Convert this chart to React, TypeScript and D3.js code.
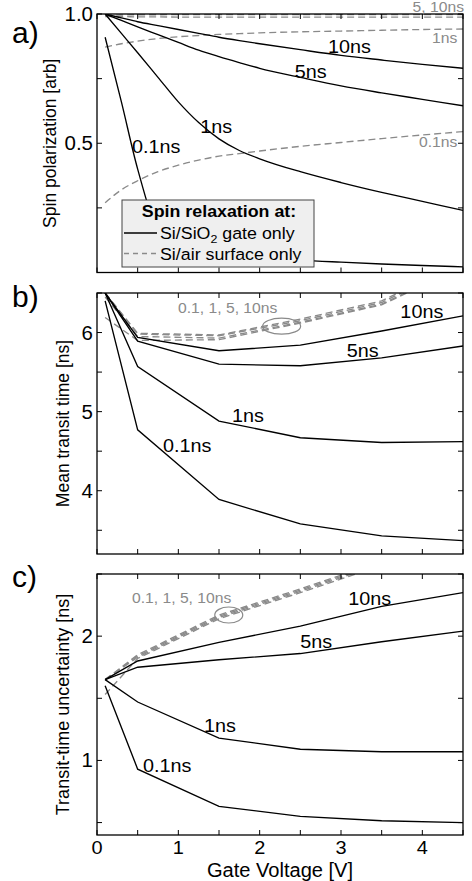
import * as d3 from "d3";

// ---------- data ----------
// a) spin polarization vs gate voltage
const voltA = [0.1, 0.3, 0.5, 0.75, 1, 1.25, 1.5, 1.75, 2, 2.5, 3, 3.5, 4, 4.5];
const polGate10 = [1.0, 0.985, 0.97, 0.955, 0.94, 0.925, 0.91, 0.897, 0.885, 0.862, 0.84, 0.822, 0.805, 0.79];
const polGate5 = [1.0, 0.975, 0.95, 0.92, 0.89, 0.86, 0.835, 0.812, 0.79, 0.755, 0.722, 0.695, 0.67, 0.645];
const polGate1 = [1.0, 0.925, 0.85, 0.755, 0.66, 0.58, 0.517, 0.472, 0.44, 0.39, 0.348, 0.31, 0.275, 0.24];
const polGate01 = [0.91, 0.66, 0.4, 0.17, 0.12, 0.095, 0.08, 0.07, 0.06, 0.048, 0.04, 0.033, 0.027, 0.022];
const polAir10 = [0.995, 0.996, 0.997, 0.997, 0.998, 0.998, 0.998, 0.998, 0.998, 0.998, 0.998, 0.998, 0.998, 0.998];
const polAir5 = [0.99, 0.99, 0.989, 0.989, 0.988, 0.988, 0.988, 0.988, 0.988, 0.988, 0.988, 0.988, 0.988, 0.988];
const polAir1 = [0.872, 0.885, 0.895, 0.905, 0.912, 0.917, 0.921, 0.924, 0.927, 0.931, 0.934, 0.937, 0.94, 0.942];
const polAir01 = [0.27, 0.32, 0.355, 0.39, 0.415, 0.435, 0.45, 0.46, 0.47, 0.488, 0.503, 0.518, 0.532, 0.545];

// b) mean transit time, c) transit-time uncertainty
const voltBC = [0.1, 0.5, 1.5, 2.5, 3.5, 4.5];
const meanGate10 = [6.5, 5.94, 5.77, 5.84, 6.02, 6.21];
const meanGate5 = [6.5, 5.89, 5.6, 5.58, 5.68, 5.83];
const meanGate1 = [6.5, 5.57, 4.88, 4.67, 4.61, 4.62];
const meanGate01 = [6.4, 4.77, 3.89, 3.58, 3.43, 3.37];
const meanAir10 = [6.5, 5.99, 5.97, 6.17, 6.4, 6.9];
const meanAir5 = [6.5, 5.98, 5.96, 6.15, 6.38, 6.88];
const meanAir1 = [6.45, 5.95, 5.93, 6.13, 6.36, 6.85];
const meanAir01 = [6.19, 5.9, 5.91, 6.12, 6.35, 6.84];

const uncGate10 = [1.65, 1.8, 1.95, 2.08, 2.24, 2.35];
const uncGate5 = [1.65, 1.75, 1.81, 1.86, 1.955, 2.04];
const uncGate1 = [1.65, 1.47, 1.18, 1.09, 1.07, 1.07];
const uncGate01 = [1.6, 0.93, 0.63, 0.55, 0.515, 0.5];
const uncAir10 = [1.65, 1.85, 2.17, 2.38, 2.6, 2.82];
const uncAir5 = [1.65, 1.84, 2.16, 2.37, 2.59, 2.81];
const uncAir1 = [1.65, 1.83, 2.15, 2.36, 2.58, 2.8];
const uncAir01 = [1.53, 1.82, 2.14, 2.35, 2.57, 2.79];

// ticks
const xTicks = [0, 0.5, 1, 1.5, 2, 2.5, 3, 3.5, 4, 4.5];
const xTickLabels = [0, 1, 2, 3, 4];
const yTicksA = [0, 0.25, 0.5, 0.75, 1];
const yLabelsA = [0.5, 1.0];
const yTicksB = [3.5, 4, 4.5, 5, 5.5, 6, 6.5];
const yLabelsB = [4, 5, 6];
const yTicksC = [0.5, 1, 1.5, 2, 2.5];
const yLabelsC = [1, 2];

// ---------- layout ----------
const W = 472;
const H = 881;
const FONT = '"Liberation Sans", Arial, Helvetica, sans-serif';
const GRAY = "#8a8a8a";

const x = d3.scaleLinear().domain([0, 4.5]).range([97, 463]);
const yA = d3.scaleLinear().domain([0, 1]).range([272.5, 14]);
const yB = d3.scaleLinear().domain([3.2, 6.5]).range([554, 293]);
const yC = d3.scaleLinear().domain([0.4, 2.5]).range([835, 574]);

function Txt({ px, py, size, sx = 1, anchor = "start", fill = "#000", weight = "normal", children }: any) {
  return (
    <text
      transform={`translate(${px},${py}) scale(${sx},1)`}
      fontSize={size}
      fontFamily={FONT}
      fontWeight={weight}
      textAnchor={anchor}
      fill={fill}
    >
      {children}
    </text>
  );
}

function Curve({ ys, y, xs, dashed = false, smooth = false, clip }: any) {
  const line = d3
    .line<number>()
    .x((_, i) => x(xs[i]))
    .y((d) => y(d))
    .curve(smooth ? d3.curveMonotoneX : d3.curveLinear);
  return (
    <path
      d={line(ys) || ""}
      fill="none"
      stroke={dashed ? GRAY : "#000"}
      strokeWidth={1.35}
      strokeDasharray={dashed ? "7,4" : undefined}
      clipPath={`url(#${clip})`}
    />
  );
}

function Frame({ y, ticks, labels, fmt, id }: any) {
  const [xl, xr] = x.range();
  const [yb, yt] = y.range();
  const tl = 5;
  return (
    <g>
      <defs>
        <clipPath id={id}>
          <rect x={xl} y={yt} width={xr - xl} height={yb - yt} />
        </clipPath>
      </defs>
      <rect x={xl} y={yt} width={xr - xl} height={yb - yt} fill="none" stroke="#000" strokeWidth={1.3} />
      {xTicks.map((t) => (
        <g key={"x" + t} stroke="#000" strokeWidth={1}>
          <line x1={x(t)} x2={x(t)} y1={yb} y2={yb - tl} />
          <line x1={x(t)} x2={x(t)} y1={yt} y2={yt + tl} />
        </g>
      ))}
      {ticks.map((t: number) => (
        <g key={"y" + t} stroke="#000" strokeWidth={1}>
          <line x1={xl} x2={xl + tl} y1={y(t)} y2={y(t)} />
          <line x1={xr} x2={xr - tl} y1={y(t)} y2={y(t)} />
        </g>
      ))}
      {labels.map((t: number) => (
        <Txt key={"l" + t} px={xl - 4} py={y(t) + 7} size={19.5} sx={1.05} anchor="end">
          {fmt(t)}
        </Txt>
      ))}
    </g>
  );
}

export default function App() {
  const lx = 122;
  const ly = 200;
  return (
    <svg
      width={W}
      height={H}
      viewBox={`0 0 ${W} ${H}`}
      style={{ position: "absolute", left: 0, top: 0, background: "#fff" }}
    >
      <rect width={W} height={H} fill="#fff" />

      {/* ---------- panel a ---------- */}
      <Curve xs={voltA} ys={polAir10} y={yA} dashed smooth clip="clipA" />
      <Curve xs={voltA} ys={polAir5} y={yA} dashed smooth clip="clipA" />
      <Curve xs={voltA} ys={polAir1} y={yA} dashed smooth clip="clipA" />
      <Curve xs={voltA} ys={polAir01} y={yA} dashed smooth clip="clipA" />
      <Curve xs={voltA} ys={polGate10} y={yA} smooth clip="clipA" />
      <Curve xs={voltA} ys={polGate5} y={yA} smooth clip="clipA" />
      <Curve xs={voltA} ys={polGate1} y={yA} smooth clip="clipA" />
      <Curve xs={voltA} ys={polGate01} y={yA} smooth clip="clipA" />
      <Frame y={yA} ticks={yTicksA} labels={yLabelsA} fmt={d3.format(".1f")} id="clipA" />

      <Txt px={x(4.5) + 1} py={yA(1) - 2.5} size={14} sx={1.12} anchor="end" fill={GRAY}>5, 10ns</Txt>
      <Txt px={x(4.43)} py={yA(0.888)} size={14} sx={1.12} anchor="end" fill={GRAY}>1ns</Txt>
      <Txt px={x(4.43)} py={yA(0.485)} size={14} sx={1.12} anchor="end" fill={GRAY}>0.1ns</Txt>
      <Txt px={x(2.84)} py={yA(0.849)} size={18} sx={1.1}>10ns</Txt>
      <Txt px={x(2.43)} py={yA(0.752)} size={18} sx={1.1}>5ns</Txt>
      <Txt px={x(1.27)} py={yA(0.54)} size={18} sx={1.1}>1ns</Txt>
      <Txt px={x(0.43)} py={yA(0.462)} size={18} sx={1.1}>0.1ns</Txt>

      {/* legend */}
      <g>
        <rect x={lx} y={ly} width={192} height={67} fill="#efefef" stroke="#444" strokeWidth={1} />
        <Txt px={lx + 97} py={ly + 17} size={16.5} sx={1.08} anchor="middle" weight="bold">
          Spin relaxation at:
        </Txt>
        <line x1={lx + 2} x2={lx + 35} y1={ly + 33} y2={ly + 33} stroke="#000" strokeWidth={1.3} />
        <text transform={`translate(${lx + 38},${ly + 38.5}) scale(1.08,1)`} fontSize={16.5} fontFamily={FONT}>
          Si/SiO<tspan fontSize={11.5} dy={4}>2</tspan>
          <tspan dy={-4}> gate only</tspan>
        </text>
        <line x1={lx + 2} x2={lx + 35} y1={ly + 53.5} y2={ly + 53.5} stroke={GRAY} strokeWidth={1.3} strokeDasharray="5,4" />
        <Txt px={lx + 38} py={ly + 59.5} size={16.5} sx={1.08}>Si/air surface only</Txt>
      </g>

      {/* ---------- panel b ---------- */}
      <Curve xs={voltBC} ys={meanAir10} y={yB} dashed clip="clipB" />
      <Curve xs={voltBC} ys={meanAir5} y={yB} dashed clip="clipB" />
      <Curve xs={voltBC} ys={meanAir1} y={yB} dashed clip="clipB" />
      <Curve xs={voltBC} ys={meanAir01} y={yB} dashed clip="clipB" />
      <Curve xs={voltBC} ys={meanGate10} y={yB} clip="clipB" />
      <Curve xs={voltBC} ys={meanGate5} y={yB} clip="clipB" />
      <Curve xs={voltBC} ys={meanGate1} y={yB} clip="clipB" />
      <Curve xs={voltBC} ys={meanGate01} y={yB} clip="clipB" />
      <Frame y={yB} ticks={yTicksB} labels={yLabelsB} fmt={d3.format("d")} id="clipB" />

      <Txt px={x(0.996)} py={yB(6.247)} size={14} sx={1.12} fill={GRAY}>0.1, 1, 5, 10ns</Txt>
      <ellipse cx={x(2.27)} cy={yB(6.08)} rx={19} ry={8} fill="none" stroke={GRAY} strokeWidth={1.2} />
      <Txt px={x(3.73)} py={yB(6.184)} size={18} sx={1.1}>10ns</Txt>
      <Txt px={x(3.07)} py={yB(5.69)} size={18} sx={1.1}>5ns</Txt>
      <Txt px={x(1.66)} py={yB(4.869)} size={18} sx={1.1}>1ns</Txt>
      <Txt px={x(0.81)} py={yB(4.49)} size={18} sx={1.1}>0.1ns</Txt>

      {/* ---------- panel c ---------- */}
      <Curve xs={voltBC} ys={uncAir10} y={yC} dashed clip="clipC" />
      <Curve xs={voltBC} ys={uncAir5} y={yC} dashed clip="clipC" />
      <Curve xs={voltBC} ys={uncAir1} y={yC} dashed clip="clipC" />
      <Curve xs={voltBC} ys={uncAir01} y={yC} dashed clip="clipC" />
      <Curve xs={voltBC} ys={uncGate10} y={yC} clip="clipC" />
      <Curve xs={voltBC} ys={uncGate5} y={yC} clip="clipC" />
      <Curve xs={voltBC} ys={uncGate1} y={yC} clip="clipC" />
      <Curve xs={voltBC} ys={uncGate01} y={yC} clip="clipC" />
      <Frame y={yC} ticks={yTicksC} labels={yLabelsC} fmt={d3.format("d")} id="clipC" />

      <Txt px={x(0.43)} py={yC(2.267)} size={14} sx={1.12} fill={GRAY}>0.1, 1, 5, 10ns</Txt>
      <ellipse cx={x(1.62)} cy={yC(2.17)} rx={14} ry={8} fill="none" stroke={GRAY} strokeWidth={1.2} />
      <Txt px={x(3.09)} py={yC(2.25)} size={18} sx={1.1}>10ns</Txt>
      <Txt px={x(2.5)} py={yC(1.905)} size={18} sx={1.1}>5ns</Txt>
      <Txt px={x(1.316)} py={yC(1.229)} size={18} sx={1.1}>1ns</Txt>
      <Txt px={x(0.566)} py={yC(0.907)} size={18} sx={1.1}>0.1ns</Txt>

      {/* x tick labels and title */}
      {xTickLabels.map((t) => (
        <Txt key={t} px={x(t)} py={854} size={19} sx={1.05} anchor="middle">
          {t}
        </Txt>
      ))}
      <Txt px={280} py={876.5} size={19.5} sx={1.03} anchor="middle">Gate Voltage [V]</Txt>

      {/* y titles */}
      <text transform={`translate(56,${(yA.range()[0] + yA.range()[1]) / 2}) rotate(-90)`} fontSize={17.5} fontFamily={FONT} textAnchor="middle">
        Spin polarization [arb]
      </text>
      <text transform={`translate(69,${(yB.range()[0] + yB.range()[1]) / 2}) rotate(-90)`} fontSize={17.5} fontFamily={FONT} textAnchor="middle">
        Mean transit time [ns]
      </text>
      <text transform={`translate(69,${(yC.range()[0] + yC.range()[1]) / 2}) rotate(-90)`} fontSize={18} fontFamily={FONT} textAnchor="middle">
        Transit-time uncertainty [ns]
      </text>

      {/* panel letters */}
      <Txt px={12} py={43} size={30}>a)</Txt>
      <Txt px={12} py={307} size={30}>b)</Txt>
      <Txt px={12} py={587} size={30}>c)</Txt>
    </svg>
  );
}
